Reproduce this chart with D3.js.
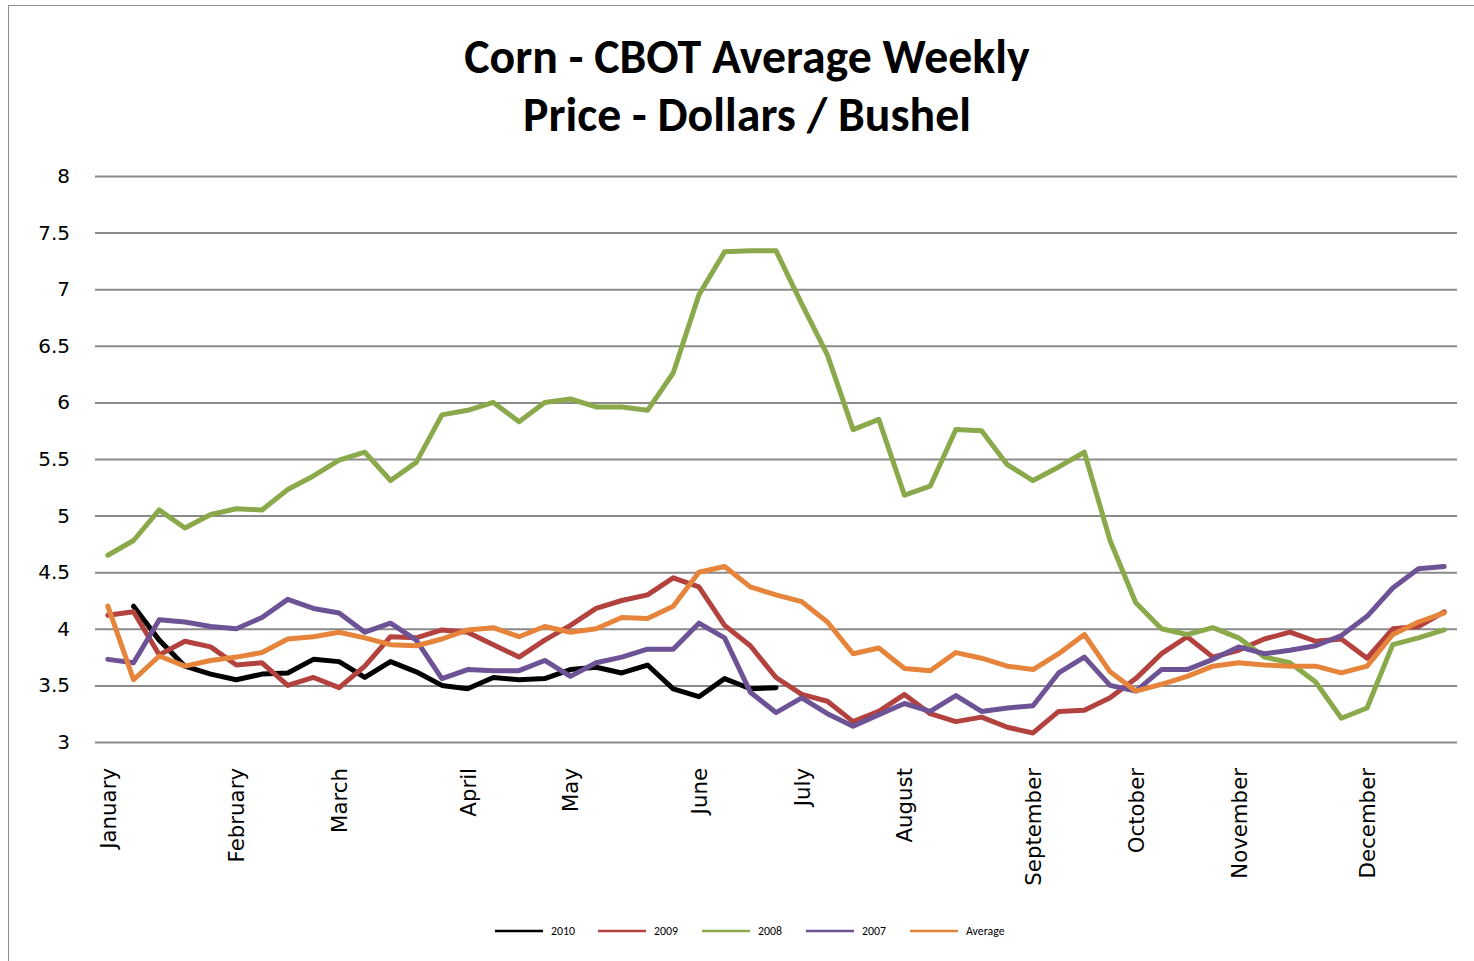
<!DOCTYPE html>
<html>
<head>
<meta charset="utf-8">
<script src="https://cdn.jsdelivr.net/npm/d3@7"></script>
<style>
  html, body { margin: 0; padding: 0; background: #fff; }
  svg { display: block; }
</style>
</head>
<body>
<svg id="chart" width="1474" height="961"></svg>
<script>
// ---------------- data ----------------
const titleLines = ["Corn - CBOT Average Weekly", "Price - Dollars / Bushel"];
const weekCount = 53;
const monthLabels = ["January","February","March","April","May","June","July","August","September","October","November","December"];
const monthStartWeek = [0,5,9,14,18,23,27,31,36,40,44,49];
const yTicks = [3,3.5,4,4.5,5,5.5,6,6.5,7,7.5,8];
const seriesNames = ["2010","2009","2008","2007","Average"];

const v2010 = [null,4.20,3.90,3.67,3.60,3.55,3.60,3.61,3.73,3.71,3.57,3.71,3.62,3.50,3.47,3.57,3.55,3.56,3.64,3.66,3.61,3.68,3.47,3.40,3.56,3.47,3.48,
  null,null,null,null,null,null,null,null,null,null,null,null,null,null,null,null,null,null,null,null,null,null,null,null,null,null];
const v2009 = [4.12,4.15,3.77,3.89,3.84,3.68,3.70,3.50,3.57,3.48,3.67,3.93,3.92,3.99,3.97,3.86,3.75,3.90,4.03,4.18,4.25,4.30,4.45,4.37,4.03,3.85,3.57,
  3.42,3.36,3.18,3.27,3.42,3.25,3.18,3.22,3.13,3.08,3.27,3.28,3.39,3.56,3.78,3.93,3.75,3.81,3.91,3.97,3.89,3.91,3.74,4.00,4.02,4.15];
const v2008 = [4.65,4.78,5.05,4.89,5.01,5.06,5.05,5.23,5.35,5.49,5.56,5.31,5.47,5.89,5.93,6.00,5.83,6.00,6.03,5.96,5.96,5.93,6.26,6.95,7.33,7.34,7.34,
  6.87,6.42,5.76,5.85,5.18,5.26,5.76,5.75,5.45,5.31,5.43,5.56,4.78,4.23,4.00,3.95,4.01,3.92,3.75,3.70,3.53,3.21,3.30,3.86,3.92,3.99];
const v2007 = [3.73,3.70,4.08,4.06,4.02,4.00,4.10,4.26,4.18,4.14,3.97,4.05,3.90,3.56,3.64,3.63,3.63,3.72,3.58,3.70,3.75,3.82,3.82,4.05,3.92,3.44,3.26,
  3.39,3.25,3.14,3.24,3.34,3.27,3.41,3.27,3.30,3.32,3.61,3.75,3.50,3.45,3.64,3.64,3.73,3.84,3.78,3.81,3.85,3.94,4.11,4.36,4.53,4.55];
const vAverage = [4.20,3.55,3.76,3.67,3.72,3.75,3.79,3.91,3.93,3.97,3.92,3.86,3.85,3.91,3.99,4.01,3.93,4.02,3.97,4.00,4.10,4.09,4.20,4.50,4.55,4.37,4.30,
  4.24,4.06,3.78,3.83,3.65,3.63,3.79,3.74,3.67,3.64,3.78,3.95,3.62,3.45,3.51,3.58,3.67,3.70,3.68,3.67,3.67,3.61,3.67,3.95,4.06,4.14];

const seriesValues = [v2010, v2009, v2008, v2007, vAverage];
const seriesColors = ["#000000", "#B3413E", "#89A94A", "#6D5295", "#E5843A"];

// ---------------- drawing ----------------
const svg = d3.select("#chart");
const plot = {left: 95, right: 1457, top: 176, bottom: 742};

// outer chart border
svg.append("rect")
  .attr("x", 8.5).attr("y", 5.5)
  .attr("width", 1500).attr("height", 1000)
  .attr("fill", "#fff").attr("stroke", "#8c8c8c").attr("stroke-width", 1);

const x = d3.scalePoint()
  .domain(d3.range(weekCount))
  .range([plot.left, plot.right])
  .padding(0.5);
const y = d3.scaleLinear().domain([3, 8]).range([plot.bottom, plot.top]);

// gridlines
const grid = svg.append("g")
  .attr("transform", `translate(${plot.left},0)`)
  .call(d3.axisLeft(y).tickValues(yTicks).tickSize(-(plot.right - plot.left)).tickFormat(""));
grid.select(".domain").remove();
grid.selectAll("line").attr("stroke", "#8a8a8a").attr("stroke-width", 2);

// y axis labels
const yAxis = svg.append("g")
  .attr("transform", `translate(${plot.left - 25},0)`)
  .call(d3.axisLeft(y).tickValues(yTicks).tickSize(0).tickPadding(0).tickFormat(d3.format("")));
yAxis.select(".domain").remove();
yAxis.selectAll("text")
  .attr("font-family", "'DejaVu Sans', sans-serif")
  .attr("font-size", 20)
  .attr("fill", "#000");

// x axis labels
const xAxis = svg.append("g")
  .attr("transform", `translate(0,${plot.bottom + 26})`)
  .call(d3.axisBottom(x).tickValues(monthStartWeek).tickSize(0).tickPadding(0)
    .tickFormat(d => monthLabels[monthStartWeek.indexOf(d)]));
xAxis.select(".domain").remove();
xAxis.selectAll("text")
  .attr("font-family", "'DejaVu Sans', sans-serif")
  .attr("font-size", 21.3)
  .attr("fill", "#000")
  .attr("text-anchor", "end")
  .attr("dy", "0.35em")
  .attr("transform", "rotate(-90)");

// series lines
const line = d3.line()
  .defined(d => d.v != null)
  .x(d => x(d.i))
  .y(d => y(d.v));

seriesValues.forEach((vals, k) => {
  svg.append("path")
    .datum(vals.map((v, i) => ({i, v})))
    .attr("fill", "none")
    .attr("stroke", seriesColors[k])
    .attr("stroke-width", 5)
    .attr("stroke-linejoin", "round")
    .attr("stroke-linecap", "round")
    .attr("d", line);
});

// title
const title = svg.append("text")
  .attr("text-anchor", "middle")
  .attr("font-family", "Carlito, Lato, 'Open Sans', sans-serif")
  .attr("font-weight", "bold")
  .attr("font-size", 47.8)
  .attr("fill", "#000");
titleLines.forEach((t, i) => {
  title.append("tspan").attr("x", 747).attr("y", 73 + i * 58).text(t);
});

// legend
const legendX = [495, 598, 702, 806, 910];
const legend = svg.append("g");
seriesNames.forEach((name, k) => {
  const g = legend.append("g").attr("transform", `translate(${legendX[k]},931)`);
  g.append("line").attr("x1", 0).attr("x2", 48).attr("y1", 0).attr("y2", 0)
    .attr("stroke", seriesColors[k]).attr("stroke-width", 2.5);
  g.append("text").attr("x", 56).attr("y", 0).attr("dy", "0.35em")
    .attr("font-family", "Carlito, Lato, sans-serif")
    .attr("font-size", 11.8).attr("fill", "#000").text(name);
});
</script>
</body>
</html>
